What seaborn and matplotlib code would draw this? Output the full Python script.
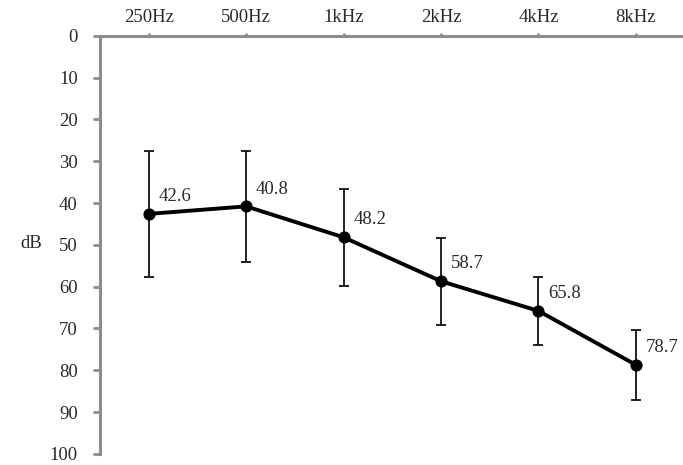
import matplotlib
matplotlib.use("Agg")
import matplotlib.pyplot as plt
import seaborn as sns
import pandas as pd

# Mean hearing thresholds per frequency, with standard deviations
frequencies = ["250Hz", "500Hz", "1kHz", "2kHz", "4kHz", "8kHz"]
mean_db = [42.6, 40.8, 48.2, 58.7, 65.8, 78.7]
sd_db = [15.1, 13.2, 11.6, 10.4, 8.1, 8.3]
y_ticks = [0, 10, 20, 30, 40, 50, 60, 70, 80, 90, 100]

df = pd.DataFrame({"freq": frequencies, "db": mean_db, "sd": sd_db})
df["pos"] = range(len(df))

sns.set_theme(style="white")
plt.rcParams["font.family"] = ["Liberation Serif", "DejaVu Serif"]

FS = 13.5
TXT = "#2a2a2a"
GRAY = "#8c8c8c"

fig = plt.figure(figsize=(6.83, 4.65), dpi=100)
ax = fig.add_axes([0.1464, 0.0237, 0.856, 0.8995])

ax.errorbar(df["pos"], df["db"], yerr=df["sd"], fmt="none",
            ecolor="#111111", elinewidth=1.3, capsize=3.5, capthick=1.3, zorder=2)
sns.lineplot(data=df, x="pos", y="db", ax=ax, color="black", linewidth=2.8,
             marker="o", markersize=8, markeredgecolor="black", zorder=3)

for x, y in zip(df["pos"], df["db"]):
    ax.annotate(f"{y:.1f}", (x, y), xytext=(7, 12.5), textcoords="offset points",
                ha="left", va="center", fontsize=FS, color=TXT)

ax.set_xlim(-0.5, 5.5)
ax.set_ylim(100, 0)
ax.set_yticks(y_ticks)
ax.set_yticklabels([str(t) for t in y_ticks])
ax.set_xticks(df["pos"])
ax.set_xticklabels(frequencies)
ax.xaxis.tick_top()
ax.set_xlabel("")
ax.set_ylabel("")

for side in ["right", "bottom"]:
    ax.spines[side].set_visible(False)
for side in ["top", "left"]:
    ax.spines[side].set_color(GRAY)
    ax.spines[side].set_linewidth(2.2)

ax.tick_params(axis="y", which="both", left=True, direction="out", length=5,
               width=2, color=GRAY, labelsize=FS, labelcolor=TXT, pad=11)
ax.tick_params(axis="x", which="both", top=True, bottom=False, direction="out",
               length=2, width=2, color=GRAY, labelsize=FS,
               labelcolor=TXT, pad=5)

fig.text(0.046, 1 - 243 / 465, "dB", fontsize=FS, color=TXT,
         ha="center", va="center")

fig.savefig("out.png", dpi=100)
